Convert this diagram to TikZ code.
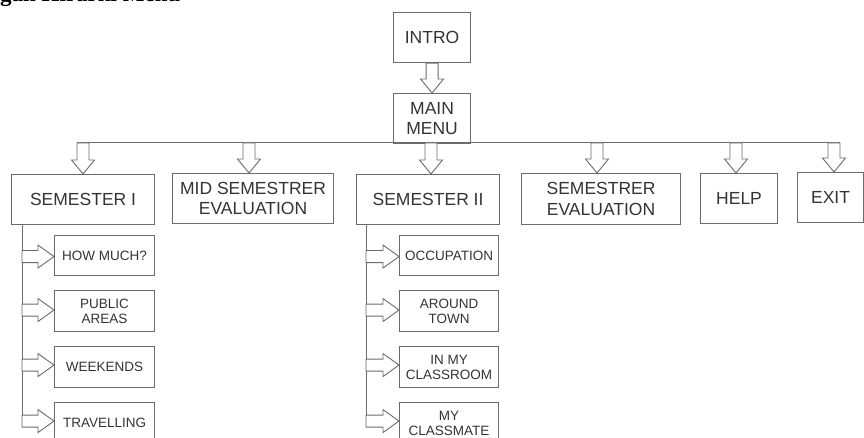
\documentclass[tikz,border=0pt]{standalone}
\usepackage{fontspec}
\setmainfont{Liberation Sans}
\newfontfamily\serifbold{Liberation Serif}
\usetikzlibrary{calc}
\definecolor{linec}{HTML}{6B6B6B}
\definecolor{textc}{HTML}{333333}
\tikzset{
  mainbox/.style={draw=linec, line width=1.1pt, inner sep=0pt, anchor=north west,
    align=center, text=textc, font=\fontsize{17.5}{20.5}\selectfont},
  subbox/.style={mainbox, font=\fontsize{13.5}{15}\selectfont},
  blk/.style={draw=linec, line width=0.9pt, fill=white, line join=miter},
  busline/.style={draw=linec, line width=1pt}
}
\newcommand\downblk[2]{\draw[blk] let \p1=#1, \p2=#2 in
  (\x1-6pt,\y1) -- (\x1-6pt,\y2+14pt) -- (\x1-11.5pt,\y2+14pt) -- (\x1,\y2)
  -- (\x1+11.5pt,\y2+14pt) -- (\x1+6pt,\y2+14pt) -- (\x1+6pt,\y1) -- cycle;}
\newcommand\rightblk[2]{\draw[blk] let \p1=#1, \p2=#2 in
  (\x1,\y1+6pt) -- (\x2-16pt,\y1+6pt) -- (\x2-16pt,\y1+11.5pt) -- (\x2,\y1)
  -- (\x2-16pt,\y1-11.5pt) -- (\x2-16pt,\y1-6pt) -- (\x1,\y1-6pt) -- cycle;}
\begin{document}
\begin{tikzpicture}[x=1pt,y=-1pt]
\useasboundingbox (0,0) rectangle (864,438);
% title (cut off at the top, as in the reference)
\node[anchor=base west, inner sep=0pt, font=\serifbold\bfseries\fontsize{23}{25}\selectfont] (title) at (0,1.5) {gan Hirarki Menu};
% top boxes
\node[mainbox, minimum width=77pt, minimum height=50pt] (intro) at (393,12) {INTRO};
\node[mainbox, minimum width=77pt, minimum height=50pt] (main) at (393,93) {MAIN\\MENU};
\node[mainbox, minimum width=143pt, minimum height=50pt] (s1) at (11,174) {SEMESTER I};
\node[mainbox, minimum width=161pt, minimum height=50pt] (mid) at (172,173) {MID SEMESTRER\\EVALUATION};
\node[mainbox, minimum width=143pt, minimum height=50pt] (s2) at (356,174) {SEMESTER II};
\node[mainbox, minimum width=159pt, minimum height=51pt] (sev) at (521,173) {SEMESTRER\\EVALUATION};
\node[mainbox, minimum width=77pt, minimum height=50pt] (help) at (700,173) {HELP};
\node[mainbox, minimum width=66pt, minimum height=50pt] (exit) at (797,172) {EXIT};
% sub boxes semester I
\node[subbox, minimum width=100pt, minimum height=40pt] (h1) at (54,235) {HOW MUCH?};
\node[subbox, minimum width=100pt, minimum height=41pt] (h2) at (54,290) {PUBLIC\\AREAS};
\node[subbox, minimum width=100pt, minimum height=41pt] (h3) at (54,346) {WEEKENDS};
\node[subbox, minimum width=100pt, minimum height=41pt] (h4) at (54,402) {TRAVELLING};
% sub boxes semester II
\node[subbox, minimum width=99pt, minimum height=40pt] (k1) at (399,235) {OCCUPATION};
\node[subbox, minimum width=99pt, minimum height=41pt] (k2) at (399,290) {AROUND\\TOWN};
\node[subbox, minimum width=99pt, minimum height=41pt] (k3) at (399,346) {IN MY\\CLASSROOM};
\node[subbox, minimum width=99pt, minimum height=41pt] (k4) at (399,402) {MY\\CLASSMATE};
% intro -> main
\downblk{(intro.south)}{(main.north)}
% bus
\coordinate (busL) at (77,143);
\coordinate (busR) at (840,143);
\draw[busline] (busL) -- (busR);
\coordinate (a1) at (83,143);
\coordinate (a2) at (249,143);
\coordinate (a3) at (431,143);
\coordinate (a4) at (597,143);
\coordinate (a5) at (736,143);
\coordinate (a6) at (834,143);
\downblk{(a1)}{(a1 |- s1.north)}
\downblk{(a2)}{(a2 |- mid.north)}
\downblk{(a3)}{(a3 |- s2.north)}
\downblk{(a4)}{(a4 |- sev.north)}
\downblk{(a5)}{(a5 |- help.north)}
\downblk{(a6)}{(a6 |- exit.north)}
% spines
\coordinate (sp1) at (22,224);
\coordinate (sp1e) at (22,426);
\coordinate (sp2) at (366,224);
\coordinate (sp2e) at (366,426);
\draw[busline] (sp1) -- (sp1e);
\draw[busline] (sp2) -- (sp2e);
\rightblk{($(sp1 |- h1.west)+(0,1)$)}{($(h1.west)+(0,1)$)}
\rightblk{($(sp1 |- h2.west)+(0,-1)$)}{($(h2.west)+(0,-1)$)}
\rightblk{($(sp1 |- h3.west)+(0,-2)$)}{($(h3.west)+(0,-2)$)}
\rightblk{($(sp1 |- h4.west)+(0,-2)$)}{($(h4.west)+(0,-2)$)}
\rightblk{($(sp2 |- k1.west)+(0,1)$)}{($(k1.west)+(0,1)$)}
\rightblk{($(sp2 |- k2.west)+(0,-1)$)}{($(k2.west)+(0,-1)$)}
\rightblk{($(sp2 |- k3.west)+(0,-2)$)}{($(k3.west)+(0,-2)$)}
\rightblk{($(sp2 |- k4.west)+(0,-2)$)}{($(k4.west)+(0,-2)$)}
\end{tikzpicture}
\end{document}
